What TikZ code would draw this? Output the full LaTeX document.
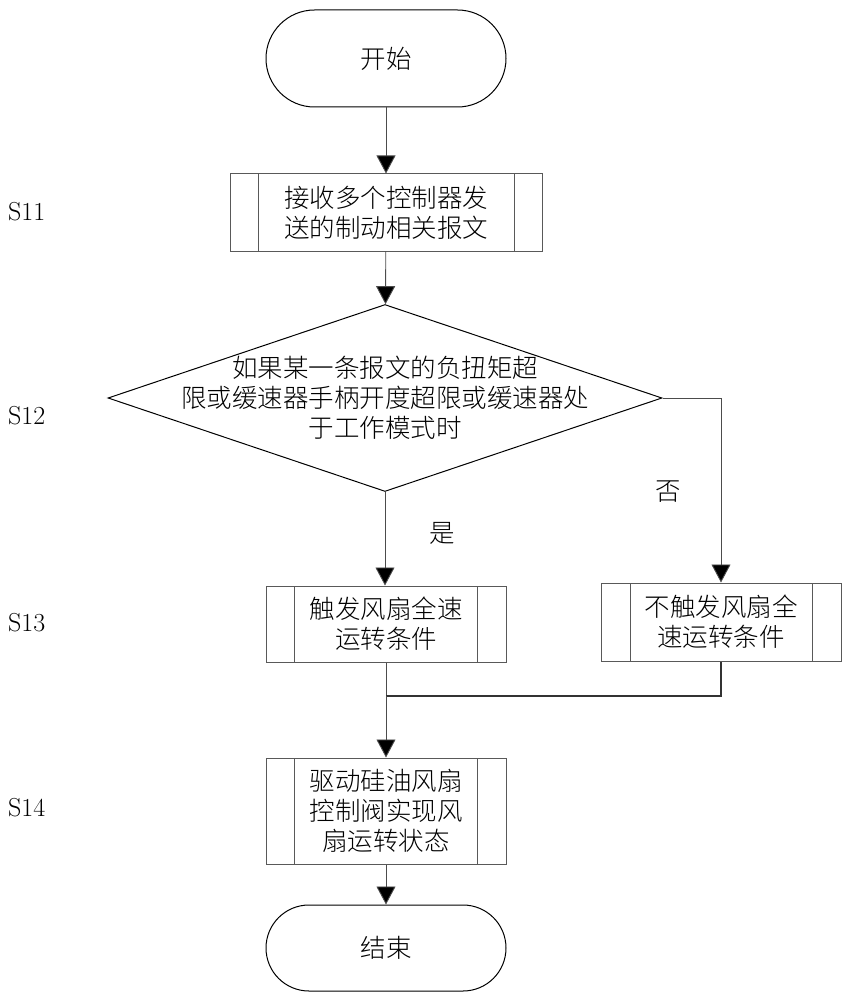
\documentclass[tikz,border=0pt]{standalone}
\usepackage{fontspec}
\newfontfamily\cjk{Noto Sans CJK SC Light}
\usetikzlibrary{shapes.misc,shapes.geometric,arrows.meta}
\begin{document}
\begin{tikzpicture}[x=1pt,y=-1pt,
  cn/.style={font=\cjk\fontsize{25.5}{30}\selectfont, align=center, inner sep=0pt},
  term/.style={cn, rounded rectangle, draw=black, line width=1pt, minimum width=240pt, minimum height=90pt},
  proc/.style={cn, rectangle, draw=black!65, line width=1pt,
    path picture={
      \draw[black!65, line width=1pt] ([xshift=#1]path picture bounding box.north west) -- ([xshift=#1]path picture bounding box.south west);
      \draw[black!65, line width=1pt] ([xshift=-#1]path picture bounding box.north east) -- ([xshift=-#1]path picture bounding box.south east);}},
  decision/.style={diamond, draw=black, line width=1pt, inner sep=0pt, minimum width=554pt, minimum height=187pt},
  arr/.style={draw=black!70, line width=0.9pt, -{Triangle[length=18pt,width=19pt,fill=black]}},
  ln/.style={draw=black!70, line width=0.9pt},
  steplbl/.style={font=\fontsize{26}{30}\selectfont, inner sep=0pt, anchor=west},
  yn/.style={font=\cjk\fontsize{25.5}{30}\selectfont, inner sep=0pt}
]
\useasboundingbox (0,0) rectangle (849,1000);

\node[term, minimum height=97pt] (start) at (386,58.5) {开始};
\node[proc=28pt, minimum width=312pt, minimum height=77pt] (s11) at (386,212.5) {接收多个控制器发\\送的制动相关报文};
\node[decision] (d) at (385,398) {};
\node[cn] (dtext) at (385,398) {如果某一条报文的负扭矩超\\限或缓速器手柄开度超限或缓速器处\\于工作模式时};
\node[proc=28.5pt, minimum width=240pt, minimum height=76pt] (s13a) at (386,624) {触发风扇全速\\运转条件};
\node[proc=29pt, minimum width=240pt, minimum height=78pt] (s13b) at (721,622) {不触发风扇全\\速运转条件};
\node[proc=28.5pt, minimum width=240pt, minimum height=106pt] (s14) at (386,811) {驱动硅油风扇\\控制阀实现风\\扇运转状态};
\node[term, minimum height=86pt] (stop) at (386,948) {结束};

\node[steplbl] (l11) at (8,212) {S11};
\node[steplbl] (l12) at (8,416) {S12};
\node[steplbl] (l13) at (8,623) {S13};
\node[steplbl] (l14) at (8,808) {S14};

\node[yn] (yes) at (442,533) {是};
\node[yn] (no) at (668,492) {否};

\coordinate (m) at (386,696);

\draw[arr] (start) -- (s11);
\draw[arr] (s11) -- (d);
\draw[arr] (d.south) -- (d.south |- s13a.north);
\draw[arr] (d.east) -| (s13b.north);
\draw[ln] (s13a.south) -- (m);
\draw[draw=black!80, line width=1.6pt] (m) -| (s13b.south);
\draw[arr] (m) -- (s14.north);
\draw[arr] (s14) -- (stop);
\end{tikzpicture}
\end{document}
